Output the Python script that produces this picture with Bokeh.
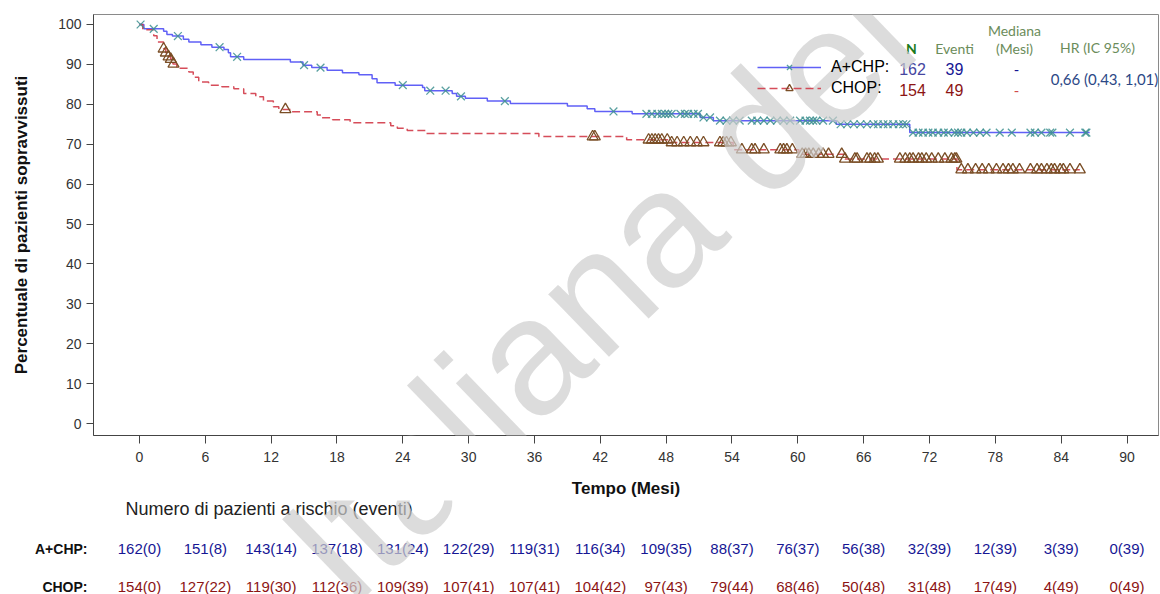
import math
import numpy as np
from bokeh.plotting import figure
from bokeh.layouts import column
from bokeh.models import (Range1d, Label, LabelSet, ColumnDataSource, FixedTicker,
                          Legend, LegendItem)
from bokeh.embed import file_html
from bokeh.resources import INLINE
from bokeh.core.properties import value

# ---------------- data ----------------
month_ticks = list(range(0, 91, 6))
pct_ticks = list(range(0, 101, 10))

# Kaplan-Meier estimates: event times (months) and % surviving after each step
achp_event_t = [0, 0.4, 2.2, 2.5, 3.0, 4.0, 4.5, 5.6, 6.6, 7.7, 8.1, 8.3, 9.5, 13.75,
                14.9, 15.7, 17.1, 18.5, 20.0, 21.2, 21.65, 23.3, 25.8, 26.0, 28.5, 28.9,
                29.7, 31.7, 33.8, 39.0, 40.8, 41.5, 44.9, 51.1, 52.3, 63.5, 70.2]
achp_surv = [100, 98.9, 98.3, 97.5, 97.1, 96.3, 95.6, 94.9, 94.3, 93.7, 92.9, 91.9, 91.2,
             90.6, 89.8, 89.2, 88.5, 87.9, 87.4, 86.4, 85.4, 84.8, 84.2, 83.4, 82.7, 82.0,
             81.5, 80.8, 80.2, 79.6, 78.9, 78.2, 77.6, 76.7, 75.9, 75.0, 72.9]
achp_last_t = 86.6
achp_censored_t = [0.1, 1.3, 3.5, 7.3, 8.9, 15.0, 16.5, 24.0, 26.5, 27.9, 29.3, 33.3, 43.2,
                   46.2, 46.7, 47.2, 47.6, 47.9, 48.2, 48.5, 49.3, 49.7, 50.0, 50.5, 50.9,
                   51.4, 52.0, 52.9, 53.5, 54.1, 54.7, 55.8, 56.3, 56.9, 57.5, 58.1, 58.7,
                   59.3, 60.2, 60.7, 61.1, 61.4, 61.7, 62.3, 63.2, 63.9, 64.5, 65.1, 65.7,
                   66.3, 66.9, 67.3, 67.8, 68.2, 68.7, 69.2, 69.6, 69.9, 70.5, 71.0, 71.4,
                   71.9, 72.3, 72.8, 73.3, 73.7, 74.3, 74.6, 74.9, 75.4, 76.0, 76.6, 77.2,
                   78.4, 79.5, 81.2, 81.6, 82.2, 83.0, 83.2, 84.8, 86.2, 86.3]

chop_event_t = [0, 0.3, 1.3, 1.6, 2.2, 2.4, 2.65, 2.85, 3.05, 3.4, 4.5, 4.9, 5.4, 6.3, 7.5,
                8.6, 9.5, 10.6, 11.3, 12.2, 12.7, 13.9, 16.2, 16.6, 17.6, 19.2, 22.9, 23.5,
                24.4, 26.1, 36.4, 44.4, 48.3, 54.1, 60.1, 64.3, 74.5]
chop_surv = [100, 98.7, 97.2, 95.6, 93.9, 92.9, 91.9, 91.3, 90.1, 89.0, 88.1, 86.8, 85.6,
             84.8, 84.4, 83.9, 82.7, 81.9, 80.8, 79.4, 78.7, 78.1, 77.3, 76.6, 76.1, 75.4,
             74.6, 74.0, 73.4, 72.7, 71.9, 71.1, 70.4, 68.6, 67.5, 66.3, 63.6]
chop_last_t = 85.7
chop_censored_t = [2.2, 2.4, 2.65, 2.85, 3.1, 13.3, 41.3, 41.5, 46.4, 46.7, 47.0, 47.3, 47.6,
                   48.1, 48.5, 49.0, 49.6, 50.2, 50.8, 51.4, 52.9, 53.2, 53.5, 53.9, 54.9,
                   55.8, 56.1, 56.9, 58.4, 58.7, 59.0, 59.5, 60.4, 60.7, 61.0, 61.4, 61.9,
                   62.3, 62.8, 64.0, 64.3, 65.2, 65.4, 66.3, 66.6, 67.0, 67.3, 69.3, 69.8,
                   70.2, 70.5, 71.0, 71.3, 71.7, 72.2, 72.8, 73.4, 74.0, 74.3, 74.45, 74.9,
                   75.5, 76.2, 76.8, 77.4, 78.1, 78.7, 79.2, 79.6, 80.2, 81.2, 81.8, 82.2,
                   82.7, 83.1, 83.4, 83.9, 84.2, 84.8, 85.7]

arm_labels = ["A+CHP:", "CHOP:"]
arm_n = [162, 154]
arm_events = [39, 49]
arm_median = ["-", "-"]
hazard_ratio = "0,66 (0,43, 1,01)"

risk_times = month_ticks
achp_at_risk = [162, 151, 143, 137, 131, 122, 119, 116, 109, 88, 76, 56, 32, 12, 3, 0]
achp_cum_events = [0, 8, 14, 18, 24, 29, 31, 34, 35, 37, 37, 38, 39, 39, 39, 39]
chop_at_risk = [154, 127, 119, 112, 109, 107, 107, 104, 97, 79, 68, 50, 31, 17, 4, 0]
chop_cum_events = [0, 22, 30, 36, 39, 41, 41, 42, 43, 44, 46, 48, 48, 49, 49, 49]

# ---------------- layout ----------------
W = 1160
H_TOP, H_BOT = 500, 94
FL, FR, FT, FB = 93, 1158, 14, 437          # plot frame edges (px)
X0, X1 = -4.19, 92.87
Y0, Y1 = -3.0, 102.5


def dx(px):
    return X0 + (px - FL) * (X1 - X0) / (FR - FL)


def dy(py):
    return Y1 - (py - FT) * (Y1 - Y0) / (FB - FT)


def qy(py):
    # the lower panel uses negated page rows as its vertical coordinate
    return -py


BLUE_LINE = "#4f4ff5"
RED_LINE = "#d23a48"
X_MARK = "#3e9090"
TRI_MARK = "#7a4e26"
NAVY = "#161694"
DARK_RED = "#8c1414"
FONT = "Liberation Sans"

x_range = Range1d(X0, X1)

p = figure(width=W, height=H_TOP, output_backend="svg", toolbar_location=None, title=None,
           x_range=x_range, y_range=Range1d(Y0, Y1),
           min_border_left=FL, min_border_right=W - FR, min_border_top=FT,
           min_border_bottom=H_TOP - FB)
p.background_fill_color = "white"
p.border_fill_color = "white"
p.outline_line_color = "#8a8a8a"
p.grid.visible = False

p.xaxis.ticker = FixedTicker(ticks=month_ticks)
p.yaxis.ticker = FixedTicker(ticks=pct_ticks)
for ax in (p.xaxis, p.yaxis):
    ax.axis_line_color = "#444444"
    ax.major_tick_line_color = "#444444"
    ax.major_tick_in = 0
    ax.minor_tick_line_color = None
    ax.major_label_text_font = FONT
    ax.major_label_text_font_size = "14px"
    ax.major_label_text_color = "#333333"
    ax.axis_label_text_font = FONT
    ax.axis_label_text_font_style = "bold"
    ax.axis_label_text_font_size = "17px"
    ax.axis_label_text_color = "#111111"
p.xaxis.major_tick_out = 8
p.xaxis.major_label_standoff = 8
p.xaxis.axis_label = "Tempo (Mesi)"
p.xaxis.axis_label_standoff = 14
p.yaxis.major_tick_out = 7
p.yaxis.major_label_standoff = 5
p.yaxis.axis_label = "Percentuale di pazienti sopravvissuti"
p.yaxis.axis_label_standoff = 24


def km_path(ts, ss, t_end):
    return list(ts) + [t_end], list(ss) + [ss[-1]]


def surv_at(ts, ss, tq):
    idx = np.searchsorted(np.asarray(ts), np.asarray(tq), side="right") - 1
    return np.asarray(ss)[idx]


xa, ya = km_path(achp_event_t, achp_surv, achp_last_t)
xc, yc = km_path(chop_event_t, chop_surv, chop_last_t)

r_achp = p.step(xa, ya, mode="after", line_color=BLUE_LINE, line_width=1.5, line_alpha=0.9)
r_chop = p.step(xc, yc, mode="after", line_color=RED_LINE, line_width=1.5, line_alpha=0.9,
                line_dash="8 4")
s_achp = p.scatter(achp_censored_t, surv_at(achp_event_t, achp_surv, achp_censored_t),
                   marker="x", size=11, line_color=X_MARK, line_width=1.3, line_alpha=0.85)
s_chop = p.scatter(chop_censored_t, surv_at(chop_event_t, chop_surv, chop_censored_t),
                   marker="triangle", size=11, fill_color=None, line_color=TRI_MARK,
                   line_width=1.3)

legend = Legend(items=[LegendItem(label=arm_labels[0], renderers=[r_achp, s_achp]),
                       LegendItem(label=arm_labels[1], renderers=[r_chop, s_chop])],
                location=(757 - FL, FB - 99), orientation="vertical",
                glyph_width=64, glyph_height=18, spacing=3, padding=0, margin=0,
                label_standoff=10, border_line_alpha=0, background_fill_alpha=0,
                label_text_font=FONT, label_text_font_size="16px",
                label_text_color="black")
p.add_layout(legend)

# lower panel: number-at-risk table sharing the month scale
row_names = {qy(548): arm_labels[0], qy(586): arm_labels[1]}
q = figure(width=W, height=H_BOT, output_backend="svg", toolbar_location=None, title=None,
           x_range=x_range, y_range=Range1d(qy(H_TOP + H_BOT), qy(H_TOP)),
           min_border_left=FL, min_border_right=W - FR, min_border_top=0,
           min_border_bottom=0, x_axis_type=None)
q.outline_line_color = None
q.grid.visible = False
q.background_fill_color = "white"
q.border_fill_color = "white"
q.yaxis.ticker = FixedTicker(ticks=list(row_names.keys()))
q.yaxis.major_label_overrides = row_names
q.yaxis.axis_line_color = None
q.yaxis.major_tick_line_color = None
q.yaxis.minor_tick_line_color = None
q.yaxis.major_tick_out = 0
q.yaxis.major_tick_in = 0
q.yaxis.major_label_standoff = 6
q.yaxis.major_label_text_font = FONT
q.yaxis.major_label_text_font_style = "bold"
q.yaxis.major_label_text_font_size = "14px"
q.yaxis.major_label_text_color = "#111111"


def add_text(fig, x, y, text, size, color, font=FONT, style="normal", align="center"):
    fig.add_layout(Label(x=x, y=y, text=text, text_font=font,
                         text_font_size=size, text_color=color, text_font_style=style,
                         text_align=align, text_baseline="middle"))


# summary table beside the legend
HEAD = "#6b8c5a"
add_text(p, dx(911), dy(48), "N", "14px", "#1b7a1b", font="Lato", style="bold")
add_text(p, dx(954), dy(48), "Eventi", "14px", HEAD, font="Lato")
add_text(p, dx(1014), dy(30), "Mediana", "14px", HEAD, font="Lato")
add_text(p, dx(1014), dy(48), "(Mesi)", "14px", HEAD, font="Lato")
add_text(p, dx(1097), dy(47), "HR (IC 95%)", "14px", HEAD, font="Lato")
row_y = [69, 90]
n_colors = ["#4646a0", DARK_RED]
ev_colors = [NAVY, DARK_RED]
med_colors = [NAVY, "#d04a4a"]
for i in range(2):
    add_text(p, dx(912), dy(row_y[i]), str(arm_n[i]), "16px", n_colors[i])
    add_text(p, dx(954), dy(row_y[i]), str(arm_events[i]), "16px", ev_colors[i])
    add_text(p, dx(1016), dy(row_y[i] + 1), arm_median[i], "15px", med_colors[i])
add_text(p, dx(1104), dy(79), hazard_ratio, "15px", "#2c4886", font="Lato")

# number-at-risk table
add_text(q, dx(125), qy(508), "Numero di pazienti a rischio (eventi)", "18px", "#222222",
         align="left")
for row_py, n_risk, n_ev, col in [(548, achp_at_risk, achp_cum_events, NAVY),
                                  (586, chop_at_risk, chop_cum_events, DARK_RED)]:
    src = ColumnDataSource(dict(x=risk_times, y=[qy(row_py)] * len(risk_times),
                                t=[f"{a}({b})" for a, b in zip(n_risk, n_ev)]))
    q.add_layout(LabelSet(x="x", y="y", text="t", source=src, text_align="center",
                          text_baseline="middle", text_font=value(FONT),
                          text_font_size="15px", text_color=col))

# document watermark, continued across both panels
wm_angle = math.radians(44)
wm_size = 165
lead = 3.891 * wm_size
wm_px = 310 - lead * math.cos(wm_angle)
wm_py = 570 + lead * math.sin(wm_angle)
for fig, wy in ((p, dy(wm_py)), (q, qy(wm_py))):
    fig.add_layout(Label(x=dx(wm_px), y=wy, text="Agenzia Italiana del Farmaco",
                         text_font=FONT, text_font_size=f"{wm_size}px",
                         text_color="#cdcdcd", text_alpha=0.7, angle=wm_angle,
                         text_align="left", text_baseline="alphabetic"))

layout = column(p, q, spacing=0)
open("out.html", "w").write(file_html(layout, INLINE))
